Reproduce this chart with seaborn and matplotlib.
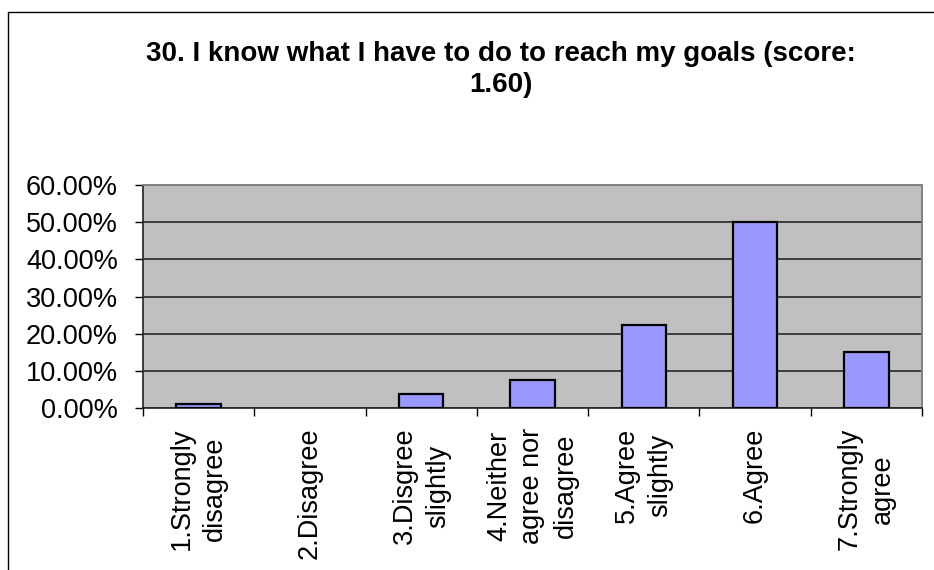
import matplotlib
matplotlib.use("Agg")
import matplotlib.pyplot as plt
import matplotlib.ticker as mticker
from matplotlib.lines import Line2D
import seaborn as sns

# Response categories and share of respondents
categories = [
    "1.Strongly\ndisagree",
    "2.Disagree",
    "3.Disgree\nslightly",
    "4.Neither\nagree nor\ndisagree",
    "5.Agree\nslightly",
    "6.Agree",
    "7.Strongly\nagree",
]
shares = [0.0125, 0.0, 0.0375, 0.075, 0.225, 0.50, 0.15]
y_ticks = [0.0, 0.1, 0.2, 0.3, 0.4, 0.5, 0.6]
title_lines = ["30. I know what I have to do to reach my goals (score:", "1.60)"]

sns.set_style("white")
plt.rcParams["font.family"] = ["Liberation Sans", "DejaVu Sans"]
plt.rcParams["text.color"] = "black"
plt.rcParams["xtick.color"] = "black"
plt.rcParams["ytick.color"] = "black"

W, H = 934, 570
fig = plt.figure(figsize=(W / 100, H / 100), dpi=100)
fig.patch.set_facecolor("white")

ax = fig.add_axes([143 / W, 1 - 408.3 / H, (922 - 143) / W, (408.3 - 185) / H])
ax.set_facecolor("#C0C0C0")

sns.barplot(x=list(range(len(categories))), y=shares, color="#9999FF",
            edgecolor="black", linewidth=1.6, width=0.4, saturation=1,
            ax=ax, zorder=3)
# empty categories get no visible outline
for bar, v in zip(ax.patches, shares):
    if v == 0:
        bar.set_linewidth(0)

ax.set_xlim(-0.5, len(categories) - 0.5)
ax.set_ylim(0, 0.6)

# gridlines
ax.set_yticks(y_ticks)
ax.yaxis.set_major_formatter(mticker.FuncFormatter(lambda v, _: f"{v * 100:.2f}%"))
ax.grid(axis="y", color="#1a1a1a", linewidth=1.1, zorder=1)
ax.grid(axis="x", visible=False)
ax.set_axisbelow(True)

# category labels between boundary tick marks
ax.set_xticks(range(len(categories)))
ax.set_xticklabels(categories, rotation=90, va="top", ha="center",
                   multialignment="center", fontsize=19.5, linespacing=1.35)
ax.set_xticks([i - 0.5 for i in range(len(categories) + 1)], minor=True)
ax.tick_params(axis="x", which="major", length=0, pad=14)
ax.tick_params(axis="x", which="minor", length=5.5, width=1, color="black",
               direction="out", bottom=True)
ax.tick_params(axis="y", which="major", length=6, width=1, color="black",
               direction="out", left=True, labelsize=19.5, pad=12)

for side in ("top", "right"):
    ax.spines[side].set_color("#808080")
    ax.spines[side].set_linewidth(1.4)
for side in ("left", "bottom"):
    ax.spines[side].set_color("#222222")
    ax.spines[side].set_linewidth(1.2)

ax.set_xlabel("")
ax.set_ylabel("")

# chart title
fig.text(501 / W, 1 - 60.7 / H, title_lines[0], ha="center", va="baseline",
         fontsize=20, fontweight="bold")
fig.text(501 / W, 1 - 91.7 / H, title_lines[1], ha="center", va="baseline",
         fontsize=20, fontweight="bold")

# outer chart frame
fig.add_artist(Line2D([7.5 / W, 1.0], [1 - 11.5 / H] * 2, color="black",
                      linewidth=1.0, transform=fig.transFigure))
fig.add_artist(Line2D([7.5 / W] * 2, [0.0, 1 - 11.5 / H], color="black",
                      linewidth=1.0, transform=fig.transFigure))

fig.savefig("out.png", dpi=100, facecolor="white")
